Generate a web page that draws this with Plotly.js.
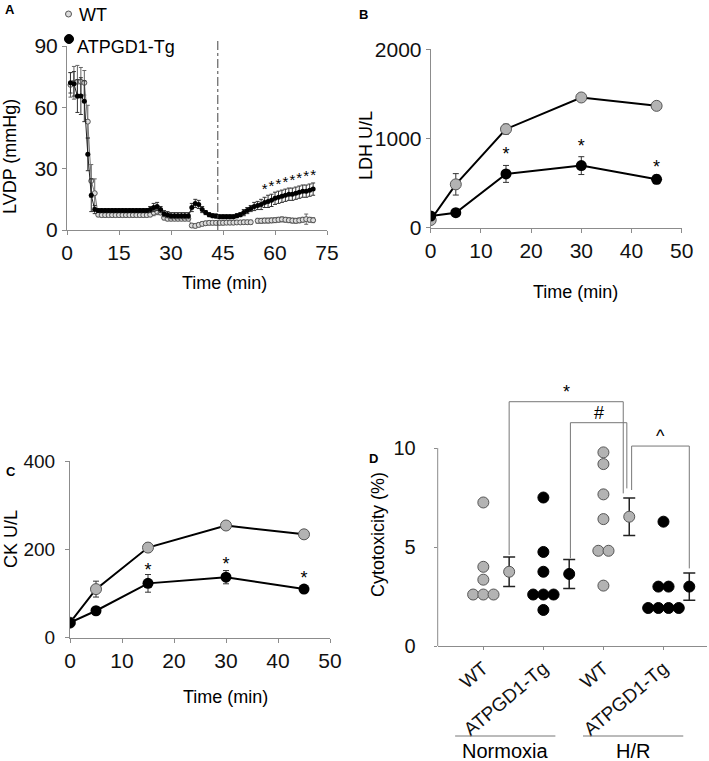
<!DOCTYPE html>
<html><head><meta charset="utf-8">
<script src="https://cdn.plot.ly/plotly-3.0.1.min.js"></script>
<style>html,body{margin:0;padding:0;background:#fff}#c{width:709px;height:761px}</style>
</head><body><div id="c"></div>
<script>
// ---------- Panel A: LVDP ----------
const A_time = [1,2,3,4,5,6,7,8,9,10,11,12,13,14,15,16,17,18,19,20,21,22,23,24,25,26,27,28,29,30,31,32,33,34,35,36,37,38,39,40,41,42,43,44,45,46,47,48,49,50,51,52,53,54,55,56,57,58,59,60,61,62,63,64,65,66,67,68,69,70,71];
const A_wt = [71,72,72.5,72.5,72,53,24,18,7.5,7.3,7.3,7.3,7.3,7.3,7.3,7.3,7.3,7.3,7.3,7.3,7.3,7.3,7.3,7.5,8.5,9,8.5,6,5.5,5.5,5.5,5.5,5.5,5.5,5.5,2.2,2,2.5,3,3.3,3.5,3.5,3.5,3.5,3.5,3.6,3.6,3.6,3.7,3.7,3.8,3.8,3.8,null,4.5,4.5,4.6,4.6,4.7,4.8,5,5.2,5,4.8,4.6,4.5,4.7,5,5.3,5,4.8];
const A_wtErr = [6,8,8,7,6,8,8,7,1,1,1,1,1,1,1,1,1,1,1,1,1,1,1,1,1.5,1.5,1,1,1,1,1,1,1,1,1,1,1,1,1,1,1,1,1,1,1,1,1,1,1,1,1,1,1,null,1.2,1.2,1.2,1.2,1.2,1.2,1.2,1.2,1.2,1.2,1.2,1.2,1.2,1.2,2.5,1.2,1.2];
const A_tg = [72,71.5,65.5,65.5,63,37,17,10,9.5,9.5,9.5,9.5,9.5,9.5,9.5,9.5,9.5,9.5,9.5,9.5,9.5,9.5,9.5,10,11,11.5,10,8,7.5,7,7,7,7,7,7,11,13,12.5,10,8.5,7.5,7,6.8,6.5,6.5,6.5,6.5,6.5,7,7.5,8.5,9.5,10.5,11.5,12,12.5,13.5,14,14.5,15.5,16,16.5,17,17.5,17.5,18,18.5,19,19,19.5,20];
const A_tgErr = [5,6,8,9,10,8,8,2,1,1,1,1,1,1,1,1,1,1,1,1,1,1,1,1.5,2,2,1.5,1.5,1.5,1.5,1.5,1.5,1.5,1.5,1.5,2,2,2,1.5,1,1,1,1,1,1,1,1,1,1,1,1.5,1.5,1.5,2,2,2.5,2.5,3,3,3,3,3,3,3,3,3,3,3,3,3,3];
const A_starTime = [57,59,61,63,65,67,69,71];
const A_starY = [19.5,21,22,23,24,25,26,26.5];
const A_reperfusion = 43.5;
const A_xticks = [0,15,30,45,60,75];
const A_yticks = [0,30,60,90];

// ---------- Panel B: LDH ----------
const B_time = [0,5,15,30,45];
const B_wt = [86,486,1105,1460,1366];
const B_wtErr = [30,120,55,20,20];
const B_tg = [131,168,603,696,542];
const B_tgErr = [20,20,95,100,50];
const B_starTime = [15,30,45];
const B_starY = [806,896,665];
const B_yticks = [0,1000,2000];

// ---------- Panel C: CK ----------
const C_time = [0,5,15,30,45];
const C_wt = [34,110,204,254,234];
const C_wtErr = [5,18,10,8,5];
const C_tg = [34,61,123,137,110];
const C_tgErr = [5,5,20,15,5];
const C_starTime = [15,30,45];
const C_starY = [150,163,132];
const C_yticks = [0,200,400];
const BC_xticks = [0,10,20,30,40,50];

// ---------- Panel D: Cytotoxicity ----------
const D_groups = ['WT','ATPGD1-Tg','WT','ATPGD1-Tg'];
const D_conditions = ['Normoxia','H/R'];
const D_points = [
  [7.25,4.0,3.35,2.6,2.6,2.6],
  [7.5,4.75,3.75,2.6,2.6,2.6,1.82],
  [9.78,9.19,7.66,6.41,4.81,4.81,3.05],
  [6.28,3.0,3.0,1.92,1.92,1.92,1.92]
];
const D_mean = [3.75,3.64,6.53,3.0];
const D_se = [0.74,0.73,0.95,0.69];
const D_isTg = [false,true,false,true];
// brackets: [left group, right group, left bottom, right bottom, top, symbol]
const D_brackets = [
  [0,2,4.6,7.71,12.34,'*'],
  [1,2,4.43,7.96,11.28,'#'],
  [2,3,7.88,3.92,10.1,'^']
];

// ---------- geometry helpers ----------
const W=709,H=761;
const px = v=>v/W, py = v=>(H-v)/H;
const FONT='Liberation Sans, Arial, sans-serif';
const GREY='#b3b3b3', AX='#8c8c8c';

const traces=[];
// Panel A
traces.push({x:A_time,y:A_wt,xaxis:'x',yaxis:'y',mode:'lines+markers',connectgaps:false,
  line:{color:'#777',width:1},marker:{size:5,color:'#dcdcdc',line:{color:'#555',width:1}},
  error_y:{type:'data',array:A_wtErr,color:'#666',thickness:1,width:2},hoverinfo:'skip'});
traces.push({x:A_time,y:A_tg,xaxis:'x',yaxis:'y',mode:'lines+markers',
  line:{color:'#222',width:1},marker:{size:5,color:'#000'},
  error_y:{type:'data',array:A_tgErr,color:'#333',thickness:1,width:2},hoverinfo:'skip'});
traces.push({x:A_starTime,y:A_starY,xaxis:'x',yaxis:'y',mode:'text',text:A_starTime.map(()=>'*'),
  textfont:{family:FONT,size:15,color:'#000'},cliponaxis:false,hoverinfo:'skip'});

function addLine(xa,ya,t,wt,wte,tg,tge,st,sy){
  traces.push({x:t,y:wt,xaxis:xa,yaxis:ya,mode:'lines+markers',line:{color:'#000',width:2},
    marker:{size:11,color:GREY,line:{color:'#555',width:1}},
    error_y:{type:'data',array:wte,color:'#333',thickness:1,width:3},hoverinfo:'skip'});
  traces.push({x:t,y:tg,xaxis:xa,yaxis:ya,mode:'lines+markers',line:{color:'#000',width:2},
    marker:{size:11,color:'#000'},
    error_y:{type:'data',array:tge,color:'#333',thickness:1,width:3},hoverinfo:'skip'});
  traces.push({x:st,y:sy,xaxis:xa,yaxis:ya,mode:'text',text:st.map(()=>'*'),
    textfont:{family:FONT,size:18,color:'#000'},cliponaxis:false,hoverinfo:'skip'});
}
addLine('x2','y2',B_time,B_wt,B_wtErr,B_tg,B_tgErr,B_starTime,B_starY);
addLine('x3','y3',C_time,C_wt,C_wtErr,C_tg,C_tgErr,C_starTime,C_starY);

// Panel D
const DODGE=0.17, MEAN_OFF=0.43;
D_points.forEach((vals,g)=>{
  const xs=[], seen={}, counts={};
  vals.forEach(v=>counts[v]=(counts[v]||0)+1);
  vals.forEach(v=>{const i=seen[v]||0; seen[v]=i+1; xs.push(g+1+(i-(counts[v]-1)/2)*DODGE);});
  const col = D_isTg[g]?'#000':GREY;
  traces.push({x:xs,y:vals,xaxis:'x4',yaxis:'y4',mode:'markers',
    marker:{size:11,color:col,line:{color:D_isTg[g]?'#000':'#555',width:1}},hoverinfo:'skip'});
  traces.push({x:[g+1+MEAN_OFF],y:[D_mean[g]],xaxis:'x4',yaxis:'y4',mode:'markers',
    marker:{size:11,color:col,line:{color:D_isTg[g]?'#000':'#555',width:1}},
    error_y:{type:'data',array:[D_se[g]],color:'#222',thickness:1.5,width:6},hoverinfo:'skip'});
});

const shapes=[], annotations=[];
// A reperfusion line
shapes.push({type:'line',xref:'x',yref:'paper',x0:A_reperfusion,x1:A_reperfusion,y0:py(230),y1:py(40),
  line:{color:'#444',width:1,dash:'dashdot'}});
// D y-axis line (0..10)
shapes.push({type:'line',xref:'paper',yref:'y4',x0:px(437.7),x1:px(437.7),y0:0,y1:10,line:{color:AX,width:1}});
// D brackets
D_brackets.forEach(b=>{
  let xL=b[0]+1+MEAN_OFF, xR=b[1]+1+MEAN_OFF;
  if(b[5]==='*'){xR-=0.1;}
  if(b[5]==='#'){xL+=0.02; xR-=0.04;}
  if(b[5]==='^'){xL+=0.04;}
  const pts=[[xL,b[2]],[xL,b[4]],[xR,b[4]],[xR,b[3]]];
  shapes.push({type:'path',xref:'x4',yref:'y4',
    path:'M'+pts.map(p=>p[0]+','+p[1]).join(' L'),line:{color:'#777',width:1}});
  annotations.push({xref:'x4',yref:'y4',x:(xL+xR)/2,y:b[4],text:b[5],showarrow:false,
    xanchor:'center',yanchor:'bottom',font:{family:FONT,size:18,color:'#000'},yshift:-2});
});
// D condition lines
[[0.53,2.2],[2.66,4.33]].forEach((r,i)=>{
  shapes.push({type:'line',xref:'x4',yref:'paper',x0:r[0],x1:r[1],y0:py(736),y1:py(736),line:{color:'#777',width:1}});
  annotations.push({xref:'x4',yref:'paper',x:(r[0]+r[1])/2,y:py(751),text:D_conditions[i],showarrow:false,
    xanchor:'center',yanchor:'middle',font:{family:FONT,size:20,color:'#000'}});
});

// A legend
shapes.push({type:'circle',xref:'paper',yref:'paper',x0:px(65.5),x1:px(71.5),y0:py(17),y1:py(11),
  fillcolor:'#dcdcdc',line:{color:'#555',width:1}});
shapes.push({type:'circle',xref:'paper',yref:'paper',x0:px(64.5),x1:px(73.5),y0:py(43.5),y1:py(34.5),
  fillcolor:'#000',line:{color:'#000',width:1}});
function ann(x,y,text,size,opts){annotations.push(Object.assign({xref:'paper',yref:'paper',x:px(x),y:py(y),text:text,showarrow:false,
  xanchor:'center',yanchor:'middle',font:{family:FONT,size:size,color:'#000'}},opts||{}));}
ann(77,15,'WT',18,{xanchor:'left'});
ann(75,47,'ATPGD1-Tg',18,{xanchor:'left'});
// panel letters
ann(10,9,'<b>A</b>',13);
ann(363,15,'<b>B</b>',13);
ann(11,471,'<b>C</b>',13);
ann(374,458,'<b>D</b>',13);
// axis titles
ann(224,283,'Time (min)',18);
ann(10,157,'LVDP (mmHg)',18,{textangle:-90});
ann(575,292,'Time (min)',18);
ann(366,146,'LDH U/L',18,{textangle:-90});
ann(225,697,'Time (min)',18);
ann(11,539,'CK U/L',18,{textangle:-90});
ann(378,534,'Cytotoxicity (%)',18,{textangle:-90});

function axis(dom,range,opts){
  return Object.assign({domain:dom,range:range,showline:true,linecolor:AX,linewidth:1,ticks:'outside',ticklen:4,
    tickcolor:AX,showgrid:false,zeroline:false,tickfont:{family:FONT,size:21,color:'#111'},fixedrange:true},opts);
}
const layout={
  width:W,height:H,margin:{l:0,r:0,t:0,b:0},paper_bgcolor:'#fff',plot_bgcolor:'rgba(0,0,0,0)',showlegend:false,
  font:{family:FONT},
  xaxis:axis([px(67),px(327)],[0,75],{anchor:'y',tickvals:A_xticks}),
  yaxis:axis([py(230),py(46)],[0,90],{anchor:'x',tickvals:A_yticks}),
  xaxis2:axis([px(430.7),px(681.7)],[0,50],{anchor:'y2',tickvals:BC_xticks}),
  yaxis2:axis([py(227.7),py(49.3)],[0,2000],{anchor:'x2',tickvals:B_yticks}),
  xaxis3:axis([px(70),px(330)],[0,50],{anchor:'y3',tickvals:BC_xticks}),
  yaxis3:axis([py(637.7),py(461)],[0,400],{anchor:'x3',tickvals:C_yticks,ticklabelstandoff:6,
    tickfont:{family:FONT,size:19,color:'#111'}}),
  xaxis4:axis([px(437.7),px(706.7)],[0.24,4.72],{anchor:'y4',tickvals:[1,2,3,4],ticktext:D_groups,ticklen:3,tickangle:-40,
    tickfont:{family:FONT,size:19,color:'#111'}}),
  yaxis4:axis([py(646),py(392.6)],[0,12.8],{anchor:'x4',tickvals:[0,5,10],showline:false,ticklen:3,ticklabelstandoff:14,
    tickfont:{family:FONT,size:20,color:'#111'}}),
  shapes:shapes,annotations:annotations
};
Plotly.newPlot('c',traces,layout,{displayModeBar:false,staticPlot:true});
</script></body></html>
